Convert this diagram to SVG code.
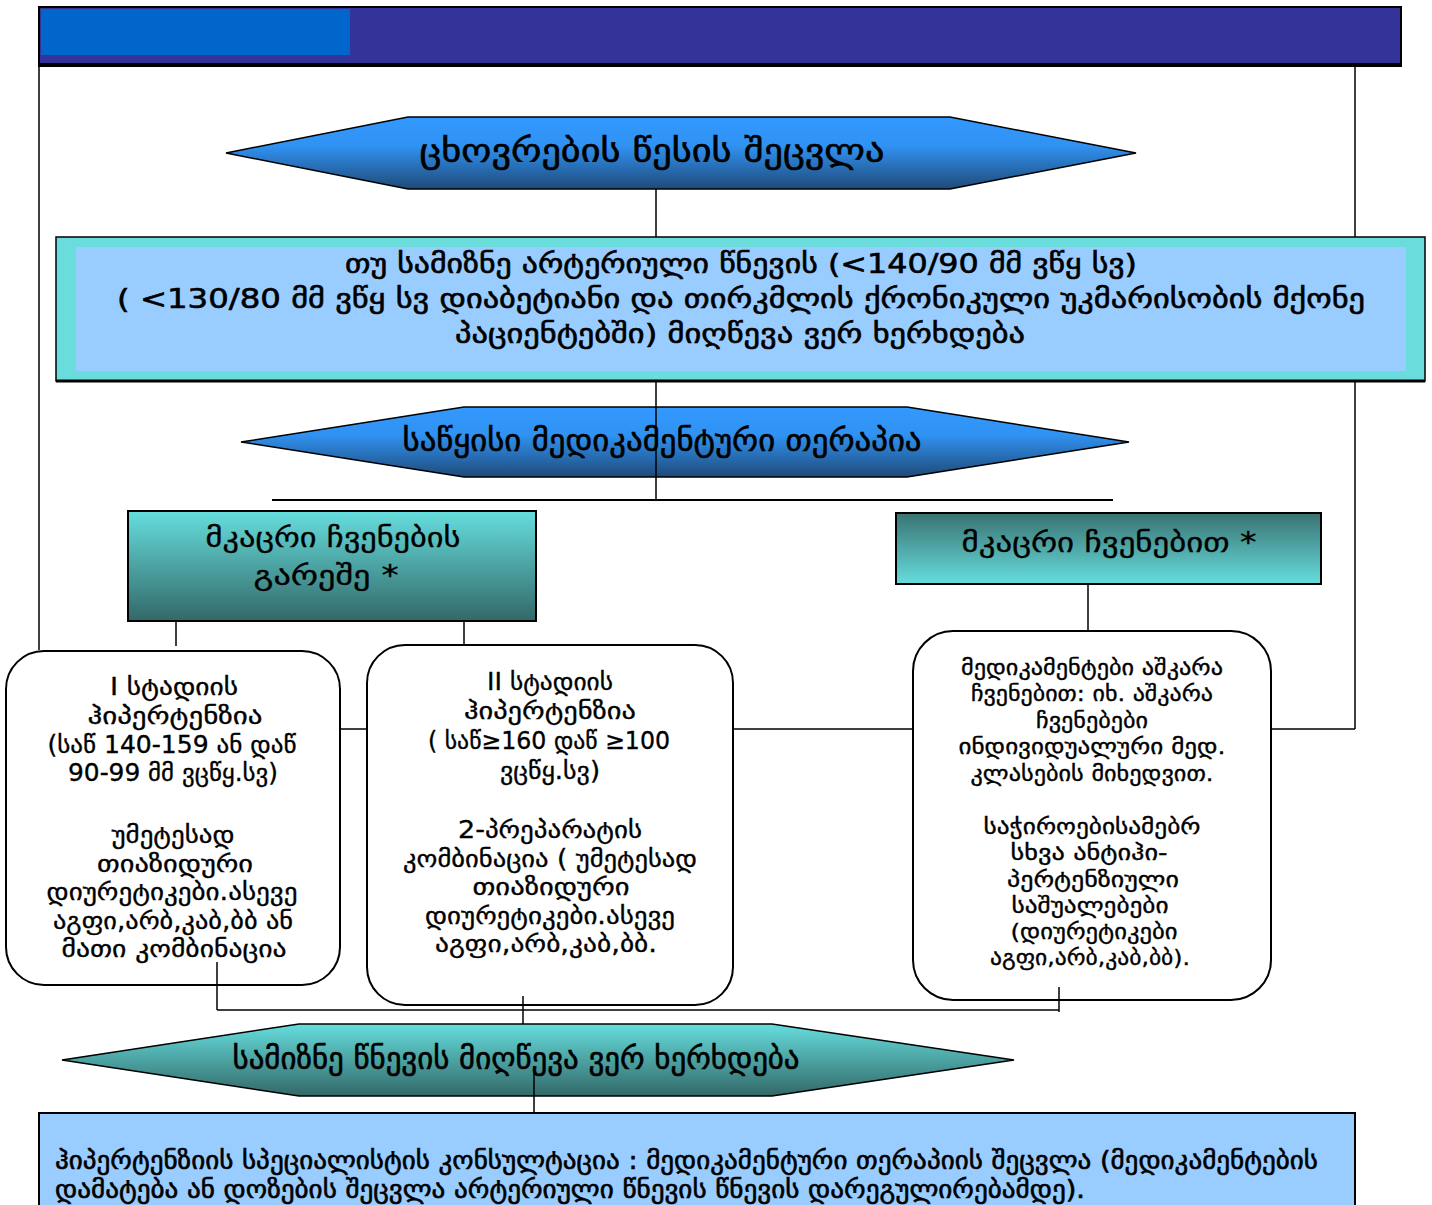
<svg xmlns="http://www.w3.org/2000/svg" width="1432" height="1205" viewBox="0 0 1432 1205">
<defs>
<linearGradient id="gBlue" x1="0" y1="0" x2="0" y2="1">
<stop offset="0" stop-color="#3399FF"/>
<stop offset="0.4" stop-color="#3092F2"/>
<stop offset="1" stop-color="#1F4A78"/>
</linearGradient>
<linearGradient id="gTealDown" x1="0" y1="0" x2="0" y2="1">
<stop offset="0" stop-color="#66DDDD"/>
<stop offset="1" stop-color="#336868"/>
</linearGradient>
<linearGradient id="gTealUp" x1="0" y1="0" x2="0" y2="1">
<stop offset="0" stop-color="#3A7272"/>
<stop offset="1" stop-color="#66DDDD"/>
</linearGradient>
</defs>
<style>
text{font-family:"DejaVu Sans","Noto Sans",sans-serif;fill:#000;stroke:#000;stroke-width:0.35;}
.c{text-anchor:middle;}
.h{stroke-width:0.6;}
.ln{stroke:#000;stroke-width:1.5;fill:none;}
.box{fill:#fff;stroke:#000;stroke-width:2;}
.t23{font-size:24px;}
.t21{font-size:22px;}
</style>
<rect width="1432" height="1205" fill="#fff"/>

<g id="header">
<rect x="39" y="7" width="1362" height="59" fill="#333399" stroke="#000" stroke-width="2"/>
<rect x="41" y="9" width="309" height="46" fill="#0066CC"/>
<line x1="39" y1="65" x2="1401" y2="65" stroke="#000" stroke-width="4"/>
</g>

<g id="frame">
<line class="ln" x1="39" y1="66" x2="39" y2="650"/>
<line class="ln" x1="1355" y1="66" x2="1355" y2="729"/>
</g>

<g id="lifestyle">
<polygon points="226,153 408,117 950,117 1136,153 950,189 408,189" fill="url(#gBlue)" stroke="#000" stroke-width="1.5"/>
<text class="c h" x="652" y="162" font-size="32" textLength="465" lengthAdjust="spacingAndGlyphs">ცხოვრების წესის შეცვლა</text>
</g>

<g id="target">
<rect x="56" y="237" width="1369" height="144" fill="#6ADCDC" stroke="#000" stroke-width="1.5"/>
<line x1="56" y1="381" x2="1425" y2="381" stroke="#000" stroke-width="3"/>
<rect x="76" y="247" width="1330" height="124" fill="#99CCFF"/>
<text class="c h" x="741" y="273" font-size="27" textLength="792" lengthAdjust="spacingAndGlyphs">თუ სამიზნე არტერიული წნევის (&lt;140/90 მმ ვწყ სვ)</text>
<text class="c h" x="741" y="308" font-size="27" textLength="1248" lengthAdjust="spacingAndGlyphs">( &lt;130/80 მმ ვწყ სვ დიაბეტიანი და თირკმლის ქრონიკული უკმარისობის მქონე</text>
<text class="c h" x="740" y="343" font-size="27" textLength="570" lengthAdjust="spacingAndGlyphs">პაციენტებში) მიღწევა ვერ ხერხდება</text>
</g>

<g id="initial">
<polygon points="241,442 464,407 907,407 1129,442 907,477 464,477" fill="url(#gBlue)" stroke="#000" stroke-width="1.5"/>
<text class="c h" x="662" y="451" font-size="31" textLength="519" lengthAdjust="spacingAndGlyphs">საწყისი მედიკამენტური თერაპია</text>
</g>

<g id="noIndication">
<rect x="128" y="511" width="408" height="110" fill="url(#gTealDown)" stroke="#000" stroke-width="2"/>
<text class="c" x="333" y="547" font-size="28" textLength="255" lengthAdjust="spacingAndGlyphs">მკაცრი ჩვენების</text>
<text class="c" x="326" y="585" font-size="28" textLength="145" lengthAdjust="spacingAndGlyphs">გარეშე  *</text>
</g>

<g id="withIndication">
<rect x="896" y="513" width="425" height="71" fill="url(#gTealUp)" stroke="#000" stroke-width="2"/>
<text class="c" x="1109" y="552" font-size="28" textLength="295" lengthAdjust="spacingAndGlyphs">მკაცრი ჩვენებით  *</text>
</g>

<g id="stage1">
<rect class="box" x="6" y="651" width="334" height="334" rx="38"/>
<text class="c t23" x="174" y="695" textLength="128" lengthAdjust="spacingAndGlyphs">I სტადიის</text>
<text class="c t23" x="175" y="724" textLength="175" lengthAdjust="spacingAndGlyphs">ჰიპერტენზია</text>
<text class="c t23" x="172" y="753" textLength="249" lengthAdjust="spacingAndGlyphs">(საწ 140-159 ან დაწ</text>
<text class="c t23" x="173" y="781" textLength="210" lengthAdjust="spacingAndGlyphs">90-99 მმ ვცწყ.სვ)</text>
<text class="c t23" x="173" y="843" textLength="123" lengthAdjust="spacingAndGlyphs">უმეტესად</text>
<text class="c t23" x="175" y="872" textLength="156" lengthAdjust="spacingAndGlyphs">თიაზიდური</text>
<text class="c t23" x="172" y="900" textLength="251" lengthAdjust="spacingAndGlyphs">დიურეტიკები.ასევე</text>
<text class="c t23" x="173" y="929" textLength="240" lengthAdjust="spacingAndGlyphs">აგფი,არბ,კაბ,ბბ ან</text>
<text class="c t23" x="174" y="957" textLength="225" lengthAdjust="spacingAndGlyphs">მათი კომბინაცია</text>
</g>

<g id="stage2">
<rect class="box" x="367" y="645" width="366" height="360" rx="38"/>
<text class="c t23" x="550" y="690" textLength="126" lengthAdjust="spacingAndGlyphs">II სტადიის</text>
<text class="c t23" x="550" y="719" textLength="172" lengthAdjust="spacingAndGlyphs">ჰიპერტენზია</text>
<text class="c t23" x="549" y="749" textLength="242" lengthAdjust="spacingAndGlyphs">( საწ≥160 დაწ ≥100</text>
<text class="c t23" x="550" y="779" textLength="100" lengthAdjust="spacingAndGlyphs">ვცწყ.სვ)</text>
<text class="c t23" x="550" y="838" textLength="184" lengthAdjust="spacingAndGlyphs">2-პრეპარატის</text>
<text class="c t23" x="550" y="867" textLength="294" lengthAdjust="spacingAndGlyphs">კომბინაცია ( უმეტესად</text>
<text class="c t23" x="551" y="895" textLength="157" lengthAdjust="spacingAndGlyphs">თიაზიდური</text>
<text class="c t23" x="550" y="924" textLength="250" lengthAdjust="spacingAndGlyphs">დიურეტიკები.ასევე</text>
<text class="c t23" x="546" y="952" textLength="222" lengthAdjust="spacingAndGlyphs">აგფი,არბ,კაბ,ბბ.</text>
</g>

<g id="compelling">
<rect class="box" x="913" y="631" width="358" height="369" rx="40"/>
<text class="c t21" x="1092" y="675" textLength="262" lengthAdjust="spacingAndGlyphs">მედიკამენტები აშკარა</text>
<text class="c t21" x="1092" y="701" textLength="242" lengthAdjust="spacingAndGlyphs">ჩვენებით: იხ. აშკარა</text>
<text class="c t21" x="1092" y="728" textLength="112" lengthAdjust="spacingAndGlyphs">ჩვენებები</text>
<text class="c t21" x="1092" y="754" textLength="267" lengthAdjust="spacingAndGlyphs">ინდივიდუალური მედ.</text>
<text class="c t21" x="1092" y="781" textLength="243" lengthAdjust="spacingAndGlyphs">კლასების მიხედვით.</text>
<text class="c t21" x="1092" y="834" textLength="217" lengthAdjust="spacingAndGlyphs">საჭიროებისამებრ</text>
<text class="c t21" x="1089" y="860" textLength="157" lengthAdjust="spacingAndGlyphs">სხვა ანტიჰი-</text>
<text class="c t21" x="1093" y="887" textLength="172" lengthAdjust="spacingAndGlyphs">პერტენზიული</text>
<text class="c t21" x="1090" y="913" textLength="157" lengthAdjust="spacingAndGlyphs">საშუალებები</text>
<text class="c t21" x="1094" y="939" textLength="167" lengthAdjust="spacingAndGlyphs">(დიურეტიკები</text>
<text class="c t21" x="1090" y="965" textLength="200" lengthAdjust="spacingAndGlyphs">აგფი,არბ,კაბ,ბბ).</text>
</g>

<g id="notReached">
<polygon points="62,1060 299,1024 772,1024 1014,1060 772,1096 299,1096" fill="url(#gTealDown)" stroke="#000" stroke-width="1.5"/>
<text class="c h" x="516" y="1069" font-size="30" textLength="567" lengthAdjust="spacingAndGlyphs">სამიზნე წნევის მიღწევა ვერ ხერხდება</text>
</g>

<g id="consult">
<rect x="39" y="1113" width="1316" height="100" fill="#99CCFF" stroke="#000" stroke-width="2"/>
<text class="h" x="55" y="1169" font-size="25" textLength="1263" lengthAdjust="spacingAndGlyphs">ჰიპერტენზიის სპეციალისტის კონსულტაცია : მედიკამენტური თერაპიის შეცვლა (მედიკამენტების</text>
<text class="h" x="55" y="1198" font-size="25" textLength="1030" lengthAdjust="spacingAndGlyphs">დამატება ან დოზების შეცვლა არტერიული წნევის წნევის დარეგულირებამდე).</text>
</g>

<g id="connectors">
<line class="ln" x1="656" y1="189" x2="656" y2="237"/>
<line class="ln" x1="656" y1="381" x2="656" y2="500"/>
<line x1="272" y1="500" x2="1113" y2="500" stroke="#000" stroke-width="2"/>
<line class="ln" x1="176" y1="621" x2="176" y2="646"/>
<line class="ln" x1="464" y1="621" x2="464" y2="645"/>
<line class="ln" x1="1088" y1="584" x2="1088" y2="631"/>
<line class="ln" x1="340" y1="729" x2="367" y2="729"/>
<line class="ln" x1="733" y1="729" x2="913" y2="729"/>
<line class="ln" x1="1271" y1="729" x2="1355" y2="729"/>
<line class="ln" x1="217" y1="962" x2="217" y2="1010"/>
<line class="ln" x1="217" y1="1010" x2="1059" y2="1010"/>
<line class="ln" x1="1059" y1="987" x2="1059" y2="1012"/>
<line class="ln" x1="523" y1="996" x2="523" y2="1024"/>
<line class="ln" x1="534" y1="1066" x2="534" y2="1113"/>
</g>
</svg>
